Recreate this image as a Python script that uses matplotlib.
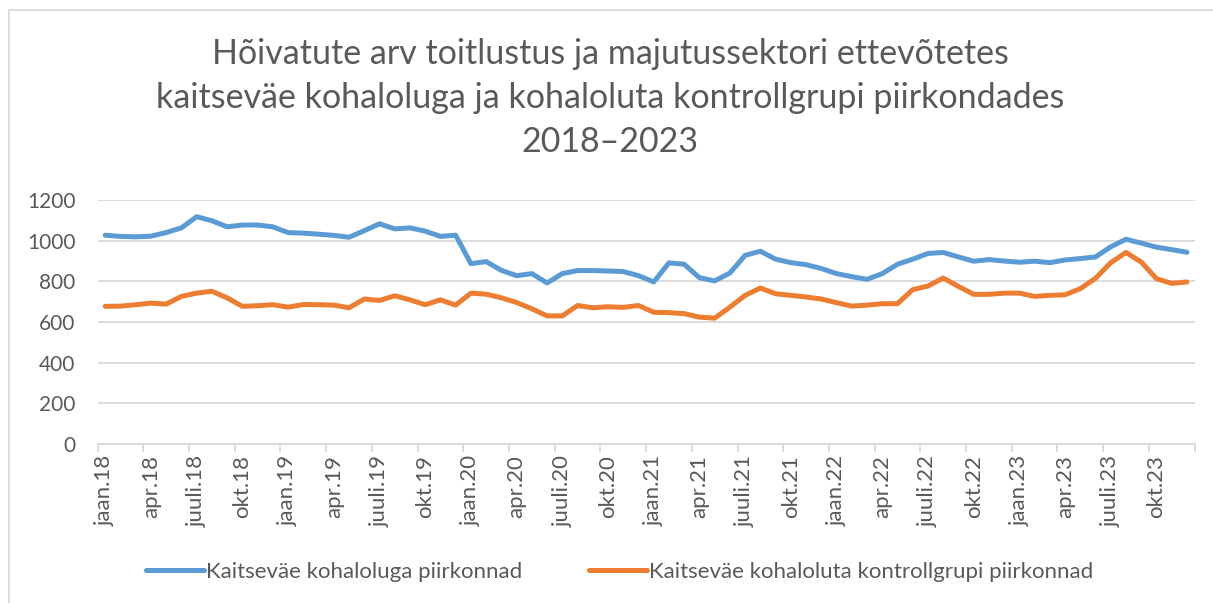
import matplotlib.pyplot as plt
from matplotlib.patches import Rectangle
import numpy as np

# kuude nimed (Excel, eesti keel)
month_names = ['jaan', 'veebr', 'märts', 'apr', 'mai', 'juuni',
               'juuli', 'aug', 'sept', 'okt', 'nov', 'dets']
years = ['18', '19', '20', '21', '22', '23']
months = [f'{m}.{y}' for y in years for m in month_names]

with_presence = [1027, 1021, 1019, 1022, 1040, 1063, 1118, 1098, 1068, 1077, 1077, 1068,
                 1040, 1037, 1032, 1026, 1017, 1049, 1083, 1058, 1063, 1047, 1021, 1027,
                 887, 897, 854, 828, 838, 792, 838, 853, 853, 851, 848, 828,
                 797, 891, 884, 818, 802, 841, 928, 948, 909, 892, 882, 863,
                 838, 823, 810, 838, 884, 909, 937, 942, 920, 899, 907, 900,
                 894, 899, 892, 905, 912, 920, 970, 1007, 988, 968, 956, 943]

control = [677, 678, 685, 693, 688, 726, 742, 751, 719, 677, 680, 685,
           673, 686, 685, 683, 670, 713, 706, 729, 709, 685, 709, 683,
           742, 737, 719, 696, 665, 630, 630, 681, 670, 675, 672, 681,
           648, 646, 641, 624, 619, 673, 731, 767, 739, 731, 723, 713,
           695, 678, 683, 690, 690, 759, 777, 816, 775, 736, 736, 742,
           742, 726, 731, 734, 764, 815, 892, 942, 895, 813, 790, 797]

series_names = ['Kaitseväe kohaloluga piirkonnad',
                'Kaitseväe kohaloluta kontrollgrupi piirkonnad']
title = ('Hõivatute arv toitlustus ja majutussektori ettevõtetes\n'
         'kaitseväe kohaloluga ja kohaloluta kontrollgrupi piirkondades\n'
         '2018–2023')

txt = '#595959'
grid = '#d9d9d9'
plt.rcParams['font.family'] = ['Lato', 'DejaVu Sans']

fig = plt.figure(figsize=(12.13, 6.03), dpi=100)
ax = fig.add_axes([0.0805, 0.2637, 0.9043, 0.4046])

x = np.arange(len(months))
ax.plot(x, with_presence, color='#5B9BD5', lw=3.6, solid_capstyle='round',
        solid_joinstyle='round', label=series_names[0])
ax.plot(x, control, color='#ED7D31', lw=3.6, solid_capstyle='round',
        solid_joinstyle='round', label=series_names[1])

ax.set_xlim(-0.5, len(months) - 0.5)
ax.set_ylim(0, 1200)
ax.set_yticks(range(0, 1201, 200))
ax.yaxis.grid(True, color=grid, lw=1.3)
ax.set_axisbelow(True)

# tick marks between categories, labels on every third month
ax.set_xticks(np.arange(-0.5, len(months), 3))
ax.set_xticklabels([])
ax.set_xticks(x[::3], minor=True)
ax.set_xticklabels(months[::3], minor=True, rotation=90, fontsize=16, color=txt)
ax.tick_params(axis='x', which='major', length=6, color=grid, width=1.3)
ax.tick_params(axis='x', which='minor', length=0, pad=8)
ax.tick_params(axis='y', length=0, pad=16, labelsize=15, labelcolor=txt)

for s in ['left', 'right', 'top']:
    ax.spines[s].set_visible(False)
ax.spines['bottom'].set_color(grid)
ax.spines['bottom'].set_linewidth(1.3)

fig.text(0.503, 1 - 98 / 603, title, ha='center', va='center',
         multialignment='center', fontsize=24.5, color=txt, linespacing=1.45)

fig.legend(loc='center', bbox_to_anchor=(0.511, 1 - 572 / 603), ncol=2,
           frameon=False, fontsize=16, labelcolor=txt, handlelength=2.6,
           handletextpad=0.1, columnspacing=3.0)

fig.patches.append(Rectangle((9 / 1213, -0.1), 1.2, 1 - 10 / 603 + 0.1,
                             transform=fig.transFigure, fill=False,
                             edgecolor=grid, lw=1.3))

plt.savefig('out.png')
